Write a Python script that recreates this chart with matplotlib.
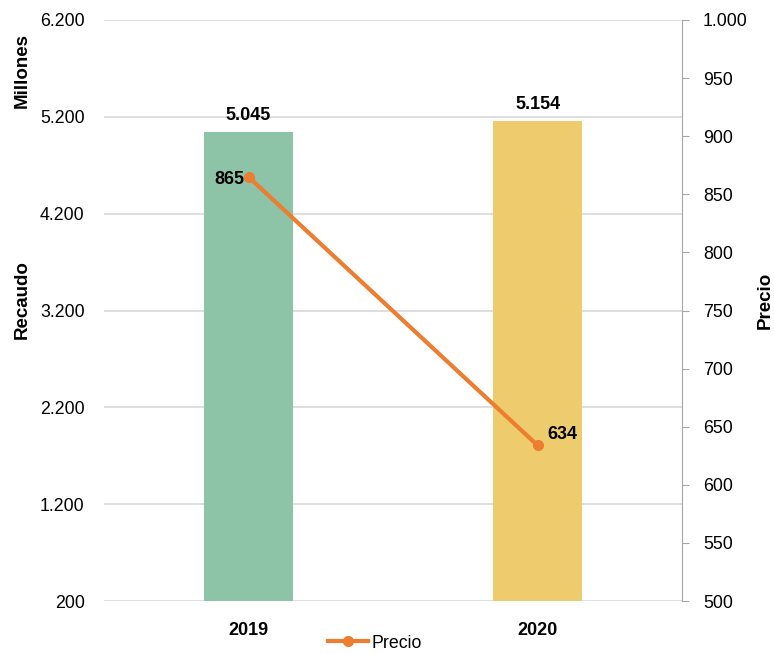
import numpy as np
import matplotlib
matplotlib.use("Agg")
import matplotlib.pyplot as plt
from matplotlib.ticker import FuncFormatter, MultipleLocator
from matplotlib.lines import Line2D

plt.rcParams['font.family'] = ['Liberation Sans', 'DejaVu Sans']

# datos
anios = ['2019', '2020']
recaudo = [5045, 5154]          # millones
precio = [865, 634]
ticks_recaudo = [200, 1200, 2200, 3200, 4200, 5200, 6200]
colores_barras = ['#8DC3A7', '#EECB6C']
color_precio = '#ED7D31'


def miles(v, pos=None):
    return f"{v:,.0f}".replace(",", ".")


fig = plt.figure(figsize=(7.74, 6.54), dpi=100)
ax = fig.add_axes([104 / 774, 53 / 654, 578 / 774, 581 / 654])
ax2 = ax.twinx()

x = np.arange(len(anios))
ax.bar(x, recaudo, width=0.31, color=colores_barras, zorder=2)
for xi, v in zip(x, recaudo):
    ax.annotate(miles(v), (xi, v), xytext=(0, 6), textcoords='offset points',
                ha='center', va='bottom', fontsize=13, fontweight='bold')

ax.set_xlim(-0.5, 1.5)
ax.set_ylim(200, 6200)
ax.set_yticks(ticks_recaudo)
ax.yaxis.set_major_formatter(FuncFormatter(miles))
ax.set_xticks(x)
ax.set_xticklabels(anios, fontsize=13, fontweight='bold')
ax.tick_params(axis='x', length=0, pad=15)
ax.tick_params(axis='y', length=0, pad=14, labelsize=12.8)
ax.grid(axis='y', color='#D9D9D9', linewidth=1.2, zorder=0)
for s in ['left', 'right', 'top', 'bottom']:
    ax.spines[s].set_visible(False)

ax2.plot(x, precio, color=color_precio, linewidth=3, marker='o',
         markersize=7, zorder=3)
ax2.annotate(miles(precio[0]), (x[0], precio[0]), xytext=(-3, -2),
             textcoords='offset points', ha='right', va='center',
             fontsize=13, fontweight='bold')
ax2.annotate(miles(precio[1]), (x[1], precio[1]), xytext=(7, 8),
             textcoords='offset points', ha='left', va='center',
             fontsize=13, fontweight='bold')
ax2.set_ylim(500, 1000)
ax2.yaxis.set_major_locator(MultipleLocator(50))
ax2.yaxis.set_major_formatter(FuncFormatter(miles))
ax2.tick_params(axis='y', length=5, color='#A6A6A6', pad=10, labelsize=12.8)
for s in ['left', 'top', 'bottom']:
    ax2.spines[s].set_visible(False)
ax2.spines['right'].set_color('#A6A6A6')

fig.text(22 / 774, 1 - 70 / 654, 'Millones', rotation=90, ha='center',
         va='center', fontsize=13.5, fontweight='bold')
fig.text(22 / 774, 1 - 300 / 654, 'Recaudo', rotation=90, ha='center',
         va='center', fontsize=13.5, fontweight='bold')
fig.text(765 / 774, 1 - 300 / 654, 'Precio', rotation=90, ha='center',
         va='center', fontsize=13.5, fontweight='bold')

handle = Line2D([], [], color=color_precio, linewidth=3, marker='o',
                markersize=7)
fig.legend([handle], ['Precio'], loc='center', bbox_to_anchor=(375 / 774, 1 - 643 / 654),
           frameon=False, fontsize=12.8, handlelength=2.2, handletextpad=0.2)

fig.savefig('out.png', dpi=100)
